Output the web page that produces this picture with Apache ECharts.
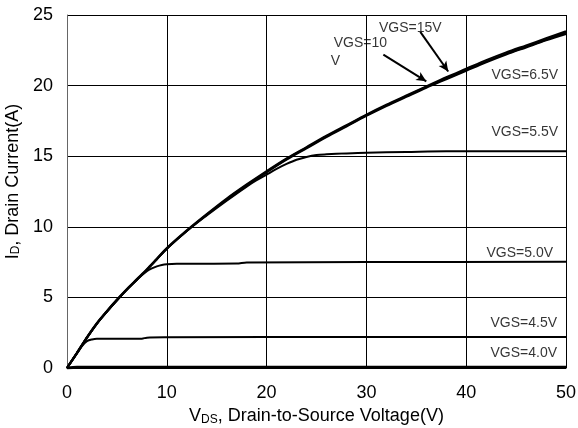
<!DOCTYPE html>
<html><head><meta charset="utf-8">
<script src="https://cdn.jsdelivr.net/npm/echarts@6/dist/echarts.min.js"></script>
<style>html,body{margin:0;padding:0;background:#fff}#c{width:578px;height:428px}</style>
</head><body><div id="c"></div>
<script>
// Data (VDS in V, ID in A)
const xTicks = [0, 10, 20, 30, 40, 50];
const yTicks = [0, 5, 10, 15, 20, 25];
const vgs15 = [[0,0],[1,1.1],[2,2.2],[3,3.2],[4,4.05],[5,4.85],[6,5.6],[7,6.3],[8,7.0],[9,7.75],[10,8.5],[12,9.75],[14,10.9],[16,12.0],[18,13.0],[20,13.95],[22,14.85],[24,15.65],[26,16.45],[28,17.2],[30,17.95],[32,18.65],[34,19.3],[36,19.95],[38,20.6],[40,21.2],[42,21.8],[44,22.35],[46,22.85],[48,23.35],[50,23.85]];
const vgs10 = [[0,0],[1,1.05],[2,2.15],[3,3.15],[4,4.0],[5,4.8],[6,5.55],[7,6.25],[8,6.95],[9,7.7],[10,8.45],[12,9.7],[14,10.85],[16,11.95],[18,12.95],[20,13.9],[22,14.8],[24,15.6],[26,16.4],[28,17.15],[30,17.9],[32,18.6],[34,19.25],[36,19.9],[38,20.5],[40,21.1],[42,21.7],[44,22.25],[46,22.75],[48,23.25],[50,23.75]];
const vgs65 = [[0,0],[1,1.05],[2,2.15],[3,3.15],[4,4.0],[5,4.8],[6,5.55],[7,6.25],[8,6.95],[9,7.7],[10,8.45],[12,9.7],[14,10.85],[16,11.9],[18,12.9],[20,13.85],[22,14.75],[24,15.55],[26,16.35],[28,17.1],[30,17.85],[32,18.55],[34,19.2],[36,19.85],[38,20.45],[40,21.05],[42,21.65],[44,22.2],[46,22.7],[48,23.2],[50,23.65]];
const vgs55 = [[0,0],[1,1.05],[2,2.15],[3,3.15],[4,4.0],[5,4.8],[6,5.55],[7,6.25],[8,6.95],[9,7.7],[10,8.45],[12,9.7],[14,10.8],[16,11.85],[18,12.85],[19,13.3],[20,13.7],[21,14.1],[22,14.45],[23,14.75],[24,14.95],[25,15.08],[26,15.13],[28,15.2],[30,15.25],[34,15.3],[38,15.35],[50,15.35]];
const vgs50 = [[0,0],[1,1.05],[2,2.15],[3,3.15],[4,4.0],[5,4.8],[6,5.55],[7,6.25],[8,6.85],[8.5,7.05],[9,7.2],[9.5,7.3],[10,7.35],[11,7.38],[17,7.4],[18,7.48],[30,7.5],[50,7.52]];
const vgs45 = [[0,0],[0.5,0.55],[1,1.05],[1.5,1.55],[2,1.9],[2.5,2.02],[3,2.07],[5,2.08],[7.5,2.08],[8,2.15],[10,2.17],[30,2.2],[50,2.2]];
const vgs40 = [[0,0],[1,0.05],[50,0.05]];
// Annotation texts: [x, y, text, align]
const labels = [
  [34.4, 24.1, 'VGS=15V', 'center'],
  [29.4, 23.0, 'VGS=10', 'center'],
  [26.9, 21.7, 'V', 'center'],
  [49.2, 20.75, 'VGS=6.5V', 'right'],
  [49.2, 16.7, 'VGS=5.5V', 'right'],
  [48.7, 8.15, 'VGS=5.0V', 'right'],
  [49.1, 3.2, 'VGS=4.5V', 'right'],
  [49.1, 1.05, 'VGS=4.0V', 'right']
];
// Arrows: [from, to]
const arrows = [
  [[35.4, 23.8], [38.2, 21.0]],
  [[31.7, 22.2], [36.0, 20.3]]
];

const FONT = "'Liberation Sans', Arial, sans-serif";
const chart = echarts.init(document.getElementById('c'));
function lineSeries(name, data, w) {
  return { name, type: 'line', data, showSymbol: false, symbol: 'none', smooth: 0.3,
    lineStyle: { color: '#000', width: w }, z: 3, animation: false };
}
const richTitle = { n: { fontFamily: FONT, fontSize: 18, color: '#000' },
  s: { fontFamily: FONT, fontSize: 12, color: '#000', verticalAlign: 'bottom', padding: [7,0,0,0] } };
chart.setOption({
  animation: false,
  grid: { left: 67, right: 12, top: 15, bottom: 60, show: false, containLabel: false, outerBoundsMode: 'none' },
  xAxis: {
    type: 'value', min: 0, max: 50, interval: 10,
    name: '{n|V}{s|DS}{n|, Drain-to-Source Voltage(V)}',
    nameLocation: 'middle', nameGap: 33,
    nameTextStyle: { rich: richTitle },
    axisLine: { show: true, lineStyle: { color: '#000', width: 1 } },
    axisTick: { show: true, inside: true, length: 3, lineStyle: { color: '#000' } },
    axisLabel: { fontFamily: FONT, fontSize: 18, color: '#000', margin: 16 },
    splitLine: { show: true, lineStyle: { color: '#000', width: 1 } }
  },
  yAxis: {
    type: 'value', min: 0, max: 25, interval: 5,
    name: '{n|I}{s|D}{n|, Drain Current(A)}',
    nameLocation: 'middle', nameGap: 44, nameRotate: 90,
    nameTextStyle: { rich: richTitle, padding: [0, 0, 0, 20] },
    axisLine: { show: true, lineStyle: { color: '#666', width: 1 } },
    axisTick: { show: false },
    axisLabel: { fontFamily: FONT, fontSize: 18, color: '#000', margin: 14 },
    splitLine: { show: true, lineStyle: { color: '#000', width: 1 } }
  },
  series: [
    lineSeries('VGS=4.0V', vgs40, 3),
    lineSeries('VGS=4.5V', vgs45, 2),
    lineSeries('VGS=5.0V', vgs50, 2),
    lineSeries('VGS=5.5V', vgs55, 2),
    lineSeries('VGS=6.5V', vgs65, 2),
    lineSeries('VGS=10V', vgs10, 2),
    Object.assign(lineSeries('VGS=15V', vgs15, 2), {
      markLine: {
        silent: true, symbol: ['none', 'arrow'], symbolSize: [7, 10],
        lineStyle: { color: '#000', width: 2, type: 'solid' },
        label: { show: false },
        data: arrows.map(a => [{ coord: a[0] }, { coord: a[1] }])
      }
    }),
    {
      type: 'scatter', symbolSize: 0, z: 5,
      data: labels.map(l => ({ value: [l[0], l[1]], label: { align: l[3] } })),
      label: { show: true, position: 'inside', fontFamily: FONT, fontSize: 14, color: '#000',
        formatter: p => labels[p.dataIndex][2] },
      animation: false
    }
  ]
});
</script></body></html>
